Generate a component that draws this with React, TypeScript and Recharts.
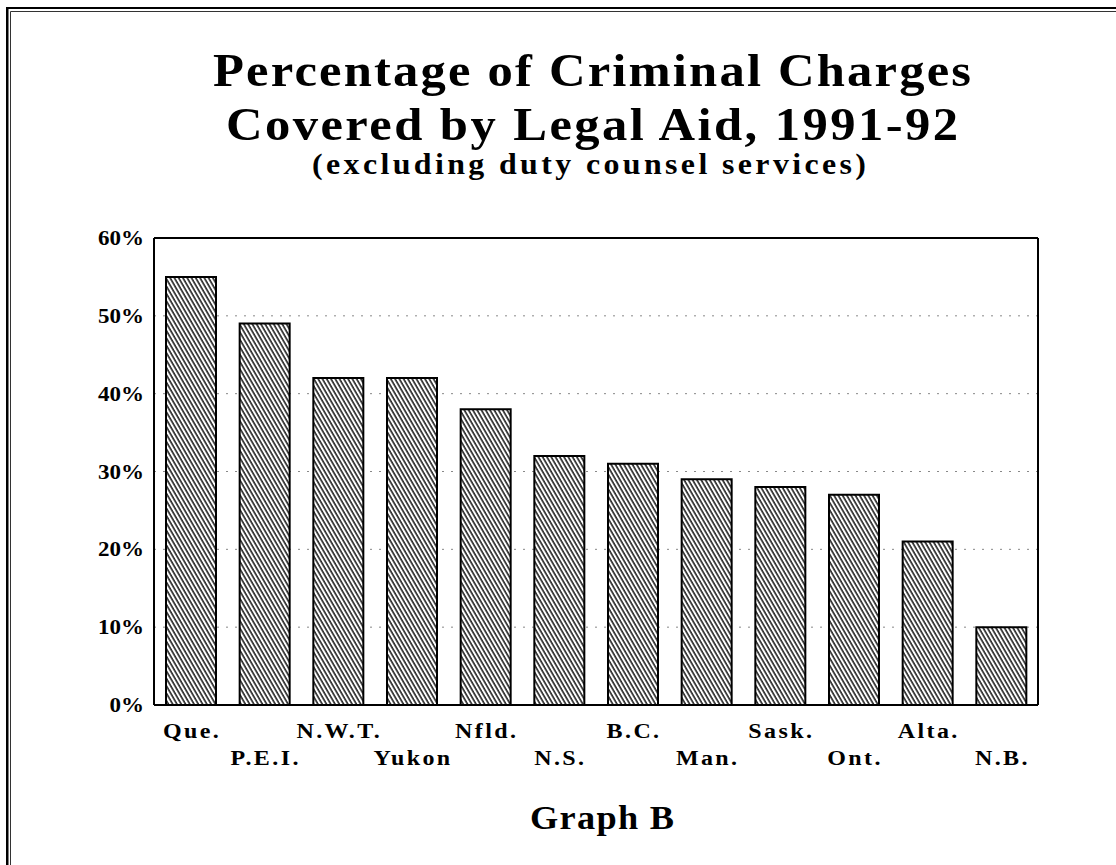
import { Bar, BarChart, CartesianGrid, ReferenceLine, XAxis, YAxis } from 'recharts';

const provinces = ['Que.', 'P.E.I.', 'N.W.T.', 'Yukon', 'Nfld.', 'N.S.', 'B.C.', 'Man.', 'Sask.', 'Ont.', 'Alta.', 'N.B.'];
const coverage = [55, 49, 42, 42, 38, 32, 31, 29, 28, 27, 21, 10];
const yTicks = [0, 10, 20, 30, 40, 50, 60];

const data = provinces.map((province, i) => ({ province, coverage: coverage[i] }));

const FONT = '"Liberation Serif", "Times New Roman", serif';
// the scanned typeface is a wide Times-like bold; stretch glyphs a bit
const SX = 1.2;
const TX = 1.1;

const XTick = (props: any) => {
  const { x, y, payload } = props;
  const idx = provinces.indexOf(payload.value);
  const row = idx % 2;
  return (
    <text
      transform={`translate(${x + 1.2},${y + 33 + row * 27}) scale(${SX},1)`}
      textAnchor="middle"
      fontFamily={FONT}
      fontWeight="bold"
      fontSize={20}
      letterSpacing={2}
      fill="#000"
    >
      {payload.value}
    </text>
  );
};

const YTick = (props: any) => {
  const { x, y, payload } = props;
  return (
    <text
      transform={`translate(${x},${y + 7}) scale(1.15,1)`}
      textAnchor="end"
      fontFamily={FONT}
      fontWeight="bold"
      fontSize={20}
      fill="#000"
    >
      {`${payload.value}%`}
    </text>
  );
};

export default function App() {
  return (
    <div style={{ position: 'absolute', left: 0, top: 0, width: 1116, height: 865, background: '#fff' }}>
      <svg
        width={1116}
        height={865}
        style={{ position: 'absolute', left: 0, top: 0, pointerEvents: 'none' }}
      >
        {/* page frame, top and left only */}
        <rect x={6} y={7} width={1110} height={2} fill="#000" />
        <rect x={6} y={7} width={2.5} height={858} fill="#000" />
        <line x1={10.5} y1={11.5} x2={1116} y2={11.5} stroke="#333" strokeWidth={1} />
        <line x1={10.5} y1={11.5} x2={10.5} y2={865} stroke="#333" strokeWidth={1} />

        <g fontFamily={FONT} fontWeight="bold" fill="#000" transform={`scale(${TX},1)`}>
          <text x={213 / TX} y={86} fontSize={46} textLength={758 / TX} lengthAdjust="spacing">
            Percentage of Criminal Charges
          </text>
          <text x={226 / TX} y={140} fontSize={46} textLength={732 / TX} lengthAdjust="spacing">
            Covered by Legal Aid, 1991-92
          </text>
          <text x={312 / TX} y={174} fontSize={29} textLength={554 / TX} lengthAdjust="spacing">
            (excluding duty counsel services)
          </text>
          <text x={530 / TX} y={829} fontSize={33} textLength={144 / TX} lengthAdjust="spacing">
            Graph B
          </text>
        </g>
      </svg>

      <div style={{ position: 'absolute', left: 0, top: 0 }}>
        <BarChart
          width={1116}
          height={865}
          data={data}
          margin={{ top: 238, right: 77, left: 0, bottom: 40 }}
        >
          <defs>
            <pattern
              id="hatch"
              patternUnits="userSpaceOnUse"
              width={3.7}
              height={10}
              patternTransform="rotate(-30)"
            >
              <rect width={3.7} height={10} fill="#fff" />
              <line x1={1} y1={0} x2={1} y2={10} stroke="#000" strokeWidth={1.4} />
            </pattern>
          </defs>
          <CartesianGrid vertical={false} stroke="#888" strokeDasharray="2 7" />
          <XAxis
            dataKey="province"
            interval={0}
            tick={<XTick />}
            tickLine={false}
            tickSize={0}
            tickMargin={0}
            height={120}
            axisLine={{ stroke: '#000', strokeWidth: 2 }}
          />
          <YAxis
            domain={[0, 60]}
            ticks={yTicks}
            tick={<YTick />}
            tickLine={false}
            tickSize={0}
            tickMargin={10}
            width={154}
            axisLine={{ stroke: '#000', strokeWidth: 2 }}
          />
          <YAxis
            yAxisId="frame"
            orientation="right"
            width={1}
            tick={false}
            tickLine={false}
            axisLine={{ stroke: '#000', strokeWidth: 2 }}
          />
          <ReferenceLine y={60} stroke="#000" strokeWidth={2} />
          <Bar
            dataKey="coverage"
            barSize={50}
            fill="url(#hatch)"
            stroke="#000"
            strokeWidth={2}
            isAnimationActive={false}
          />
        </BarChart>
      </div>
    </div>
  );
}
